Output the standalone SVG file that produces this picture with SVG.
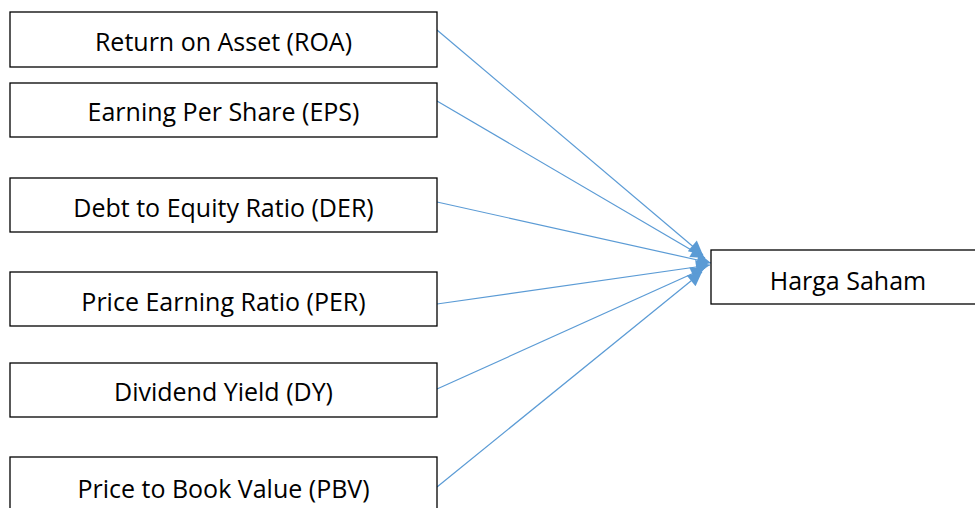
<svg xmlns="http://www.w3.org/2000/svg" width="975" height="508" viewBox="0 0 975 508">
<style>
.box{fill:#fff;stroke:#000;stroke-width:1.3}
.lbl{font-family:"Open Sans","Liberation Sans",sans-serif;font-size:25px;fill:#000;text-anchor:middle;dominant-baseline:central}
.con{stroke:#5b9bd5;stroke-width:1.2;fill:none;marker-end:url(#ah)}
</style>
<defs>
<marker id="ah" viewBox="0 0 10 10" refX="10" refY="5" markerWidth="16" markerHeight="14" markerUnits="userSpaceOnUse" orient="auto">
<path d="M0,0 L10,5 L0,10 z" fill="#5b9bd5"/>
</marker>
</defs>
<rect width="975" height="508" fill="#fff"/>
<g id="connectors">
<path class="con" d="M437,30 L703,255"/>
<path class="con" d="M437,101 L705,258"/>
<path class="con" d="M437,202 L711,263"/>
<path class="con" d="M437,304 L710,265"/>
<path class="con" d="M437,389 L705,268"/>
<path class="con" d="M437,487 L702,272"/>
</g>
<g id="roa"><rect class="box" x="10" y="12" width="427" height="55"/><text class="lbl" x="223.5" y="41">Return on Asset (ROA)</text></g>
<g id="eps"><rect class="box" x="10" y="83" width="427" height="54"/><text class="lbl" x="223.5" y="111">Earning Per Share (EPS)</text></g>
<g id="der"><rect class="box" x="10" y="178" width="427" height="54"/><text class="lbl" x="223.5" y="207">Debt to Equity Ratio (DER)</text></g>
<g id="per"><rect class="box" x="10" y="272" width="427" height="54"/><text class="lbl" x="223.5" y="301">Price Earning Ratio (PER)</text></g>
<g id="dy"><rect class="box" x="10" y="363" width="427" height="54"/><text class="lbl" x="223.5" y="391">Dividend Yield (DY)</text></g>
<g id="pbv"><rect class="box" x="10" y="457" width="427" height="60"/><text class="lbl" x="223.5" y="488">Price to Book Value (PBV)</text></g>
<g id="harga"><rect class="box" x="711" y="250" width="270" height="54"/><text class="lbl" x="848" y="280">Harga Saham</text></g>
</svg>
